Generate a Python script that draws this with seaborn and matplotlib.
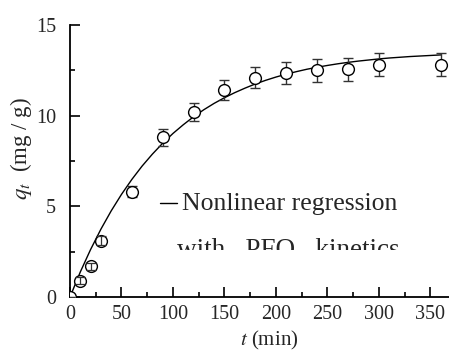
import numpy as np
import pandas as pd
import matplotlib
matplotlib.use("Agg")
import matplotlib.pyplot as plt
import seaborn as sns
from matplotlib.transforms import Bbox
from matplotlib.lines import Line2D

# Data points
waktu = [0, 10, 20, 30, 60, 90, 120, 150, 180, 210, 240, 270, 300, 360]
qt = [0.0, 0.9, 1.7, 3.1, 5.8, 8.8, 10.2, 11.4, 12.1, 12.35, 12.5, 12.55, 12.8, 12.8]
qt_err = [0.0, 0.2, 0.2, 0.25, 0.3, 0.45, 0.5, 0.56, 0.6, 0.63, 0.63, 0.63, 0.63, 0.64]

# Fitted curve
waktu_kurva = [0, 10, 20, 30, 40, 50, 60, 70, 80, 90, 100, 110, 120, 130, 140, 150,
               160, 170, 180, 190, 200, 210, 220, 230, 240, 250, 260, 270, 280,
               290, 300, 310, 320, 330, 340, 350, 360]
qt_kurva = [0.0, 1.38, 2.62, 3.74, 4.75, 5.66, 6.48, 7.22, 7.88, 8.48, 9.02, 9.50,
            9.94, 10.33, 10.68, 10.99, 11.27, 11.52, 11.75, 11.95, 12.13, 12.29,
            12.43, 12.56, 12.67, 12.77, 12.86, 12.94, 13.01, 13.07, 13.13, 13.18,
            13.22, 13.26, 13.29, 13.32, 13.35]

df = pd.DataFrame({"t": waktu, "q": qt, "err": qt_err})
df_kurva = pd.DataFrame({"t": waktu_kurva, "q": qt_kurva})

sns.set_style("ticks")
plt.rcParams["font.family"] = ["Liberation Serif", "DejaVu Serif"]
plt.rcParams["mathtext.fontset"] = "stix"

fig = plt.figure(figsize=(4.49, 3.53), dpi=100)
ax = fig.add_axes([70 / 449, 1 - 297 / 353, 1 - 70 / 449, (297 - 25) / 353])

sns.lineplot(data=df_kurva, x="t", y="q", color="black", linewidth=1.0, ax=ax)

# error bar kecil digambar di atas simbol, yang besar di bawah simbol
kecil = df[df["t"] <= 30]
besar = df[df["t"] > 30]
ax.errorbar(besar["t"], besar["q"], yerr=besar["err"], fmt="none", ecolor="#333333",
            elinewidth=1.0, capsize=3.5, capthick=1.0, zorder=3)
sns.scatterplot(data=df, x="t", y="q", marker="o", s=72, facecolor="white",
                edgecolor="black", linewidth=1.0, ax=ax, zorder=4)
ax.errorbar(kecil["t"], kecil["q"], yerr=kecil["err"], fmt="none", ecolor="#333333",
            elinewidth=0.9, capsize=3.5, capthick=0.9, zorder=5)

ax.set_xlim(0, 368)
ax.set_ylim(0, 15)
ax.set_xticks(range(0, 351, 50))
ax.set_xticks(range(25, 351, 50), minor=True)
ax.set_yticks([0, 5, 10, 15])
ax.set_yticks([2.5, 7.5, 12.5], minor=True)
ax.tick_params(axis="both", which="major", direction="in", length=7, width=1.2,
               labelsize=14.5, color="black")
ax.tick_params(axis="both", which="minor", direction="in", length=3.5, width=1.2,
               color="black")
ax.tick_params(axis="y", pad=10)
ax.tick_params(axis="x", pad=6)
sns.despine(ax=ax)
for s in ["left", "bottom"]:
    ax.spines[s].set_linewidth(1.3)
    ax.spines[s].set_color("black")

ax.set_xlabel("$t$ (min)", fontsize=15)
ax.xaxis.set_label_coords((269 - 70) / 379, (297 - 345) / 272, transform=ax.transAxes)
ax.xaxis.label.set_va("baseline")
ax.set_ylabel("$q_t$  (mg / g)", fontsize=16.5)
ax.yaxis.set_label_coords((21 - 70) / 379, (297 - 148) / 272, transform=ax.transAxes)
ax.yaxis.label.set_va("center")

fig.add_artist(Line2D([160 / 449, 177 / 449], [1 - 203 / 353] * 2, color="black",
                      linewidth=1.0))
fig.text(182 / 449, 1 - 210 / 353, "Nonlinear regression", fontsize=18.5,
         va="baseline", ha="left")
teks2 = fig.text(177 / 449, 1 - 257 / 353, "with   PFO   kinetics", fontsize=19.5,
                 va="baseline", ha="left")
teks2.set_clip_box(Bbox.from_extents(0, 353 - 250, 449, 353))
teks2.set_clip_on(True)

fig.savefig("out.png", dpi=100)
